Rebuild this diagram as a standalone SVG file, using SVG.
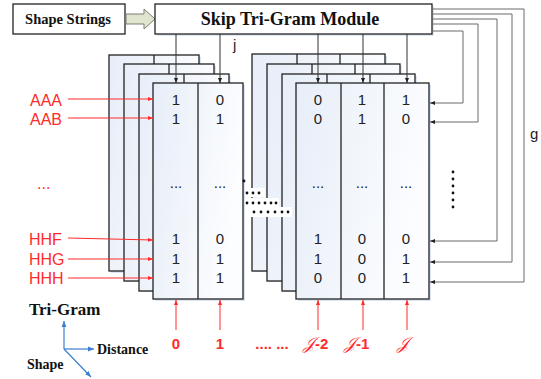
<svg xmlns="http://www.w3.org/2000/svg" width="541" height="379" viewBox="0 0 541 379">
<defs>
  <linearGradient id="fg" x1="0" y1="0" x2="1" y2="0.3">
    <stop offset="0" stop-color="#e7eef8"/>
    <stop offset="1" stop-color="#fcfdff"/>
  </linearGradient>
  <marker id="ak" viewBox="0 0 10 10" refX="10" refY="5" markerWidth="5" markerHeight="5" orient="auto" markerUnits="userSpaceOnUse">
    <path d="M0,1 L10,5 L0,9 z" fill="#222"/>
  </marker>
  <marker id="ar" viewBox="0 0 10 10" refX="10" refY="5" markerWidth="5" markerHeight="5" orient="auto" markerUnits="userSpaceOnUse">
    <path d="M0,1 L10,5 L0,9 z" fill="#ff2a2a"/>
  </marker>
  <marker id="ab" viewBox="0 0 10 10" refX="10" refY="5" markerWidth="6" markerHeight="6" orient="auto" markerUnits="userSpaceOnUse">
    <path d="M0,1 L10,5 L0,9 z" fill="#3b7fd0"/>
  </marker>
</defs>
<style>
  .box{fill:#fff;stroke:#222;stroke-width:1.3}
  .fr{fill:url(#fg);stroke:#222;stroke-width:1.3}
  .sh{fill:#dce5f3}
  .dv{stroke:#222;stroke-width:1.3}
  .ttl{font-family:"Liberation Serif",serif;font-weight:bold;fill:#111}
  .val{font-family:"Liberation Sans",Arial,sans-serif;font-size:15px;fill:#222;text-anchor:middle}
  .lab{font-family:"Liberation Sans",Arial,sans-serif;font-size:16px;fill:#ff2a2a}
  .bot{font-family:"Liberation Sans",Arial,sans-serif;font-size:15px;font-weight:bold;fill:#ff2a2a;text-anchor:middle}
  .scr{font-family:"DejaVu Serif","Liberation Serif",serif;font-style:italic;font-weight:normal;font-size:17px;fill:#ff2a2a}
  .ck{stroke:#333;stroke-width:1;fill:none;marker-end:url(#ak)}
  .cg{stroke:#6a6a6a;stroke-width:1;fill:none;marker-end:url(#ak)}
  .cr{stroke:#ff2a2a;stroke-width:1;fill:none;marker-end:url(#ar)}
  .cb{stroke:#3b7fd0;stroke-width:1.2;fill:none;marker-end:url(#ab)}
  .dot{fill:#111}
</style>

<g id="shape-strings">
  <rect class="box" x="13" y="4" width="112" height="30"/>
  <text class="ttl" x="68" y="24" font-size="14.5" text-anchor="middle">Shape Strings</text>
</g>
<g id="input-arrow">
  <path d="M126,14 L144,14 L144,9 L155,19 L144,29 L144,24 L126,24 Z" fill="#dfe5cf" stroke="#7a7f70" stroke-width="1"/>
</g>
<g id="module">
  <rect x="157" y="6" width="277" height="30" fill="#dfe7f4"/>
  <rect class="box" x="155" y="4" width="277" height="30"/>
  <text class="ttl" x="290" y="25" font-size="18" text-anchor="middle">Skip Tri-Gram Module</text>
</g>

<g id="left-stack">
  <rect class="sh" x="111" y="57" width="90" height="216"/>
  <rect class="fr" x="109" y="55" width="90" height="216"/>
  <line class="dv" x1="154" y1="55" x2="154" y2="271"/>
  <rect class="sh" x="126" y="66" width="90" height="216"/>
  <rect class="fr" x="124" y="64" width="90" height="217"/>
  <line class="dv" x1="169" y1="64" x2="169" y2="281"/>
  <rect class="sh" x="141" y="76" width="90" height="216"/>
  <rect class="fr" x="139" y="74" width="90" height="217"/>
  <line class="dv" x1="184" y1="74" x2="184" y2="291"/>
  <rect class="sh" x="155" y="85" width="90" height="216"/>
  <rect class="fr" x="153" y="83" width="90" height="216"/>
  <line class="dv" x1="198" y1="83" x2="198" y2="299"/>
  <text class="val" x="176" y="105">1</text><text class="val" x="220" y="105">0</text>
  <text class="val" x="176" y="124">1</text><text class="val" x="220" y="124">1</text>
  <text class="val" x="176" y="188">...</text><text class="val" x="220" y="188">...</text>
  <text class="val" x="176" y="244">1</text><text class="val" x="220" y="244">0</text>
  <text class="val" x="176" y="264">1</text><text class="val" x="220" y="264">1</text>
  <text class="val" x="176" y="283">1</text><text class="val" x="220" y="283">1</text>
</g>

<g id="right-stack">
  <rect class="sh" x="254" y="56" width="133" height="216"/>
  <rect class="fr" x="252" y="54" width="133" height="217"/>
  <line class="dv" x1="297" y1="54" x2="297" y2="271"/>
  <line class="dv" x1="340" y1="54" x2="340" y2="271"/>
  <rect class="sh" x="269" y="66" width="133" height="216"/>
  <rect class="fr" x="267" y="64" width="133" height="217"/>
  <line class="dv" x1="312" y1="64" x2="312" y2="281"/>
  <line class="dv" x1="355" y1="64" x2="355" y2="281"/>
  <rect class="sh" x="284" y="76" width="133" height="216"/>
  <rect class="fr" x="282" y="74" width="133" height="217"/>
  <line class="dv" x1="327" y1="74" x2="327" y2="291"/>
  <line class="dv" x1="370" y1="74" x2="370" y2="291"/>
  <rect class="sh" x="298" y="85" width="133" height="216"/>
  <rect class="fr" x="296" y="83" width="133" height="216"/>
  <line class="dv" x1="341" y1="83" x2="341" y2="299"/>
  <line class="dv" x1="384" y1="83" x2="384" y2="299"/>
  <text class="val" x="318" y="105">0</text><text class="val" x="362" y="105">1</text><text class="val" x="406" y="105">1</text>
  <text class="val" x="318" y="124">0</text><text class="val" x="362" y="124">1</text><text class="val" x="406" y="124">0</text>
  <text class="val" x="318" y="188">...</text><text class="val" x="362" y="188">...</text><text class="val" x="406" y="188">...</text>
  <text class="val" x="318" y="244">1</text><text class="val" x="362" y="244">0</text><text class="val" x="406" y="244">0</text>
  <text class="val" x="318" y="264">1</text><text class="val" x="362" y="264">0</text><text class="val" x="406" y="264">1</text>
  <text class="val" x="318" y="283">0</text><text class="val" x="362" y="283">0</text><text class="val" x="406" y="283">1</text>
</g>

<g id="middle-dots">
  <rect x="245" y="188" width="20" height="9" fill="#fff"/>
  <rect x="245" y="198" width="34" height="9" fill="#fff"/>
  <rect x="250" y="207" width="42" height="10" fill="#fff"/>
  <circle class="dot" cx="244" cy="181" r="1.4"/>
  <circle class="dot" cx="247" cy="193" r="1.4"/><circle class="dot" cx="253" cy="193" r="1.4"/><circle class="dot" cx="259" cy="193" r="1.4"/>
  <circle class="dot" cx="247" cy="203" r="1.4"/><circle class="dot" cx="253" cy="203" r="1.4"/><circle class="dot" cx="259" cy="203" r="1.4"/><circle class="dot" cx="265" cy="203" r="1.4"/><circle class="dot" cx="271" cy="203" r="1.4"/><circle class="dot" cx="276" cy="203" r="1.4"/>
  <circle class="dot" cx="254" cy="212" r="1.4"/><circle class="dot" cx="261" cy="212" r="1.4"/><circle class="dot" cx="268" cy="212" r="1.4"/><circle class="dot" cx="275" cy="212" r="1.4"/><circle class="dot" cx="282" cy="212" r="1.4"/><circle class="dot" cx="288" cy="212" r="1.4"/>
</g>
<g id="right-dots">
  <circle class="dot" cx="453" cy="172" r="1.4"/><circle class="dot" cx="453" cy="179" r="1.4"/><circle class="dot" cx="453" cy="186" r="1.4"/><circle class="dot" cx="453" cy="193" r="1.4"/><circle class="dot" cx="453" cy="200" r="1.4"/><circle class="dot" cx="453" cy="207" r="1.4"/>
</g>

<g id="connectors">
  <line class="ck" x1="176" y1="34" x2="176" y2="83"/>
  <line class="ck" x1="220" y1="34" x2="220" y2="83"/>
  <line class="ck" x1="318" y1="34" x2="318" y2="83"/>
  <line class="ck" x1="363" y1="34" x2="363" y2="83"/>
  <line class="ck" x1="407" y1="34" x2="407" y2="83"/>
  <polyline class="cg" points="432,31 463,31 463,103 430,103"/>
  <polyline class="cg" points="432,24 478,24 478,122 430,122"/>
  <polyline class="cg" points="432,19 497,19 497,241 430,241"/>
  <polyline class="cg" points="432,14 512,14 512,262 430,262"/>
  <polyline class="cg" points="432,9 524,9 524,282 430,282"/>
  <line class="cr" x1="68" y1="99" x2="153" y2="99"/>
  <line class="cr" x1="68" y1="118" x2="153" y2="118"/>
  <line class="cr" x1="68" y1="238" x2="153" y2="240"/>
  <line class="cr" x1="68" y1="259" x2="153" y2="259"/>
  <line class="cr" x1="68" y1="278" x2="153" y2="278"/>
  <line class="cr" x1="176" y1="330" x2="176" y2="300"/>
  <line class="cr" x1="220" y1="330" x2="220" y2="300"/>
  <line class="cr" x1="318" y1="330" x2="318" y2="300"/>
  <line class="cr" x1="363" y1="330" x2="363" y2="300"/>
  <line class="cr" x1="407" y1="330" x2="407" y2="300"/>
</g>

<g id="labels">
  <text x="233" y="50" font-family="Liberation Sans, sans-serif" font-size="15" fill="#222">j</text>
  <text x="530" y="139" font-family="Liberation Sans, sans-serif" font-size="15" fill="#222">g</text>
  <text class="lab" x="30" y="106">AAA</text>
  <text class="lab" x="30" y="125">AAB</text>
  <text class="lab" x="37" y="189">...</text>
  <text class="lab" x="29" y="245">HHF</text>
  <text class="lab" x="29" y="265">HHG</text>
  <text class="lab" x="29" y="284">HHH</text>
  <text class="bot" x="176" y="349">0</text>
  <text class="bot" x="220" y="349">1</text>
  <text class="bot" x="272" y="349">.... ...</text>
  <text x="303" y="349" font-family="Liberation Sans, sans-serif" font-size="15" font-weight="bold" fill="#ff2a2a"><tspan class="scr">𝒥</tspan>-2</text>
  <text x="344" y="349" font-family="Liberation Sans, sans-serif" font-size="15" font-weight="bold" fill="#ff2a2a"><tspan class="scr">𝒥</tspan>-1</text>
  <text x="397" y="349" font-family="Liberation Sans, sans-serif" font-size="15" font-weight="bold" fill="#ff2a2a"><tspan class="scr">𝒥</tspan></text>
</g>

<g id="axes">
  <line class="cb" x1="64" y1="349" x2="64" y2="321"/>
  <line class="cb" x1="64" y1="349" x2="94" y2="349"/>
  <line class="cb" x1="64" y1="349" x2="91" y2="377"/>
  <text class="ttl" x="29" y="315" font-size="17">Tri-Gram</text>
  <text class="ttl" x="97" y="354" font-size="14">Distance</text>
  <text class="ttl" x="27" y="369" font-size="14">Shape</text>
</g>
</svg>
